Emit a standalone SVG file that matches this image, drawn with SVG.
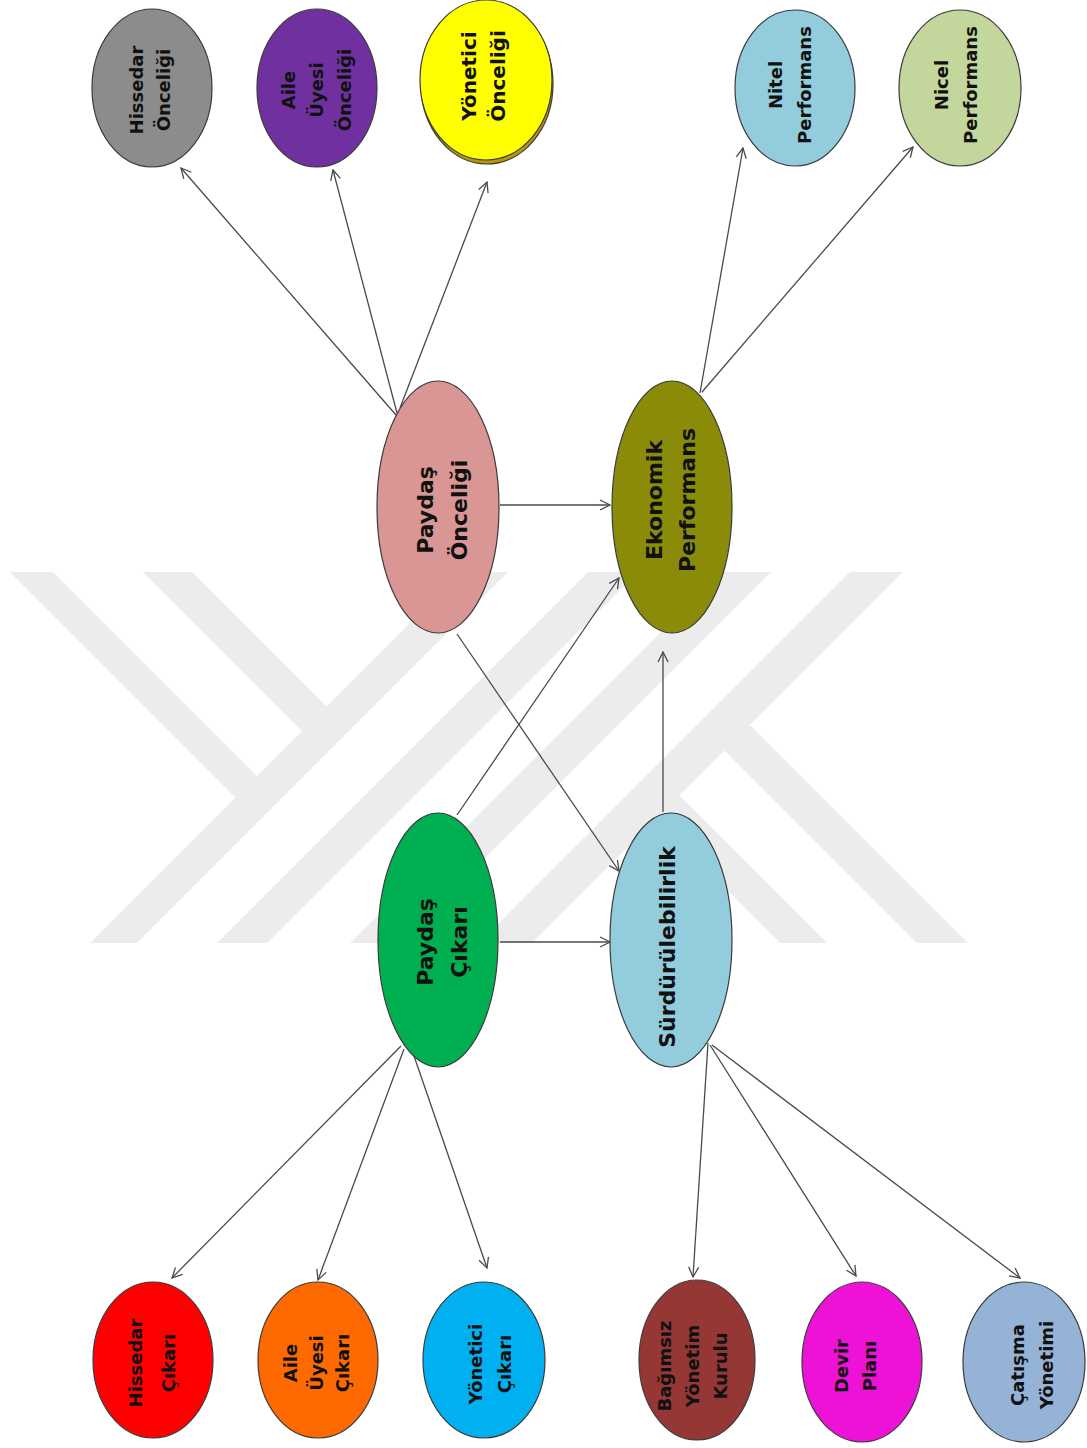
<svg xmlns="http://www.w3.org/2000/svg" width="1087" height="1448" viewBox="0 0 1087 1448">
  <defs>
    <marker id="arrow" viewBox="0 0 12 12" refX="11" refY="6" markerWidth="12" markerHeight="12" markerUnits="userSpaceOnUse" orient="auto">
      <path d="M1,1 L11,6 L1,11" fill="none" stroke="#4a4a4a" stroke-width="1.3"/>
    </marker>
    <style>
      .node ellipse { stroke: #3a3a3a; stroke-width: 1.2; }
      .node text { font-family: "DejaVu Sans", "Liberation Sans", sans-serif; font-weight: bold; fill: #111; text-anchor: middle; }
      .small text { font-size: 18px; }
      .big text { font-size: 22px; }
      .edges line { stroke: #4a4a4a; stroke-width: 1.3; fill: none; marker-end: url(#arrow); }
      .mark { fill: #ececec; }
    </style>
  </defs>

  <rect width="1087" height="1448" fill="#ffffff"/>

  <!-- background emblem: parallel diagonal bands -->
  <g id="emblem">
    <polygon class="mark" points="90,943 137,943 508,572 461,572"/>
    <polygon class="mark" points="217,943 267,943 638,572 588,572"/>
    <polygon class="mark" points="350,943 400,943 771,572 721,572"/>
    <polygon class="mark" points="479,943 532,943 903,572 850,572"/>
    <polygon class="mark" points="10,572 53,572 268,787 246.5,808.5"/>
    <polygon class="mark" points="143,572 192,572 337.5,717.5 313,742"/>
    <polygon class="mark" points="737.5,712.5 712,738 917,943 968,943"/>
    <polygon class="mark" points="667,783 643.5,806.5 780,943 827,943"/>
  </g>

  <!-- connectors -->
  <g id="connectors" class="edges">
    <line x1="396" y1="415" x2="181" y2="168"/>
    <line x1="397" y1="413" x2="333" y2="170"/>
    <line x1="400" y1="408" x2="487" y2="182"/>
    <line x1="700" y1="393" x2="743" y2="148"/>
    <line x1="702" y1="392" x2="913" y2="147"/>
    <line x1="500" y1="505" x2="610" y2="505"/>
    <line x1="500" y1="942" x2="610" y2="942"/>
    <line x1="457" y1="634" x2="619" y2="871"/>
    <line x1="457" y1="815" x2="619" y2="578"/>
    <line x1="663" y1="812" x2="663" y2="652"/>
    <line x1="401" y1="1046" x2="172" y2="1278"/>
    <line x1="404" y1="1049" x2="318" y2="1280"/>
    <line x1="413" y1="1053" x2="487" y2="1268"/>
    <line x1="708" y1="1043" x2="693" y2="1277"/>
    <line x1="710" y1="1045" x2="856" y2="1276"/>
    <line x1="712" y1="1045" x2="1020" y2="1278"/>
  </g>

  <!-- top row -->
  <g id="hissedar-onceligi" class="node small">
    <ellipse cx="152" cy="88" rx="60" ry="79" fill="#8c8c8c"/>
    <text transform="translate(150,90) rotate(-90)"><tspan x="0" y="-7.2">Hissedar</tspan><tspan x="0" y="19.8">Önceliği</tspan></text>
  </g>
  <g id="aile-uyesi-onceligi" class="node small">
    <ellipse cx="317" cy="88" rx="60" ry="79" fill="#7030a0"/>
    <text transform="translate(317,90) rotate(-90)"><tspan x="0" y="-21.7">Aile</tspan><tspan x="0" y="6.3">Üyesi</tspan><tspan x="0" y="34.3">Önceliği</tspan></text>
  </g>
  <g id="yonetici-onceligi" class="node">
    <ellipse cx="487" cy="84" rx="66" ry="80" fill="#b8960a" stroke="none"/>
    <ellipse cx="486" cy="80" rx="66" ry="80" fill="#ffff00"/>
    <text transform="translate(483,76) rotate(-90)" font-size="20"><tspan x="0" y="-7.5">Yönetici</tspan><tspan x="0" y="21.5">Önceliği</tspan></text>
  </g>
  <g id="nitel-performans" class="node small">
    <ellipse cx="795" cy="88" rx="60" ry="78" fill="#93cddd"/>
    <text transform="translate(790,85) rotate(-90)"><tspan x="0" y="-8.2">Nitel</tspan><tspan x="0" y="20.8">Performans</tspan></text>
  </g>
  <g id="nicel-performans" class="node small">
    <ellipse cx="960" cy="88" rx="61" ry="78" fill="#c3d69b"/>
    <text transform="translate(956,85) rotate(-90)"><tspan x="0" y="-8.2">Nicel</tspan><tspan x="0" y="20.8">Performans</tspan></text>
  </g>

  <!-- middle row -->
  <g id="paydas-onceligi" class="node big">
    <ellipse cx="438" cy="507" rx="61" ry="126" fill="#d99694"/>
    <text transform="translate(442,510) rotate(-90)"><tspan x="0" y="-9.3">Paydaş</tspan><tspan x="0" y="24.7">Önceliği</tspan></text>
  </g>
  <g id="ekonomik-performans" class="node big">
    <ellipse cx="672" cy="507" rx="60" ry="126" fill="#8b8b0a"/>
    <text transform="translate(671,500) rotate(-90)" font-size="21"><tspan x="0" y="-9.2">Ekonomik</tspan><tspan x="0" y="23.8">Performans</tspan></text>
  </g>
  <g id="paydas-cikari" class="node big">
    <ellipse cx="438" cy="940" rx="60" ry="127" fill="#00b050"/>
    <text transform="translate(442,942) rotate(-90)"><tspan x="0" y="-9.3">Paydaş</tspan><tspan x="0" y="24.7">Çıkarı</tspan></text>
  </g>
  <g id="surdurulebilirlik" class="node big">
    <ellipse cx="671" cy="940" rx="61" ry="127" fill="#93cddd"/>
    <text transform="translate(667,947) rotate(-90)"><tspan x="0" y="7.7">Sürdürülebilirlik</tspan></text>
  </g>

  <!-- bottom row -->
  <g id="hissedar-cikari" class="node small">
    <ellipse cx="153" cy="1360" rx="60" ry="78" fill="#ff0000"/>
    <text transform="translate(152,1363) rotate(-90)"><tspan x="0" y="-10.2">Hissedar</tspan><tspan x="0" y="22.8">Çıkarı</tspan></text>
  </g>
  <g id="aile-uyesi-cikari" class="node small">
    <ellipse cx="318" cy="1360" rx="60" ry="78" fill="#ff6a00"/>
    <text transform="translate(317,1363) rotate(-90)"><tspan x="0" y="-19.7">Aile</tspan><tspan x="0" y="6.3">Üyesi</tspan><tspan x="0" y="32.3">Çıkarı</tspan></text>
  </g>
  <g id="yonetici-cikari" class="node small">
    <ellipse cx="484" cy="1360" rx="61" ry="78" fill="#00b0f0"/>
    <text transform="translate(490,1364) rotate(-90)"><tspan x="0" y="-8.2">Yönetici</tspan><tspan x="0" y="20.8">Çıkarı</tspan></text>
  </g>
  <g id="bagimsiz-yonetim-kurulu" class="node small">
    <ellipse cx="697" cy="1360" rx="58" ry="80" fill="#953735"/>
    <text transform="translate(693,1366) rotate(-90)"><tspan x="0" y="-21.7">Bağımsız</tspan><tspan x="0" y="6.3">Yönetim</tspan><tspan x="0" y="34.3">Kurulu</tspan></text>
  </g>
  <g id="devir-plani" class="node small">
    <ellipse cx="862" cy="1362" rx="60" ry="80" fill="#ee12d6"/>
    <text transform="translate(856,1366) rotate(-90)"><tspan x="0" y="-7.7">Devir</tspan><tspan x="0" y="20.3">Planı</tspan></text>
  </g>
  <g id="catisma-yonetimi" class="node small">
    <ellipse cx="1024" cy="1362" rx="61" ry="80" fill="#95b3d7"/>
    <text transform="translate(1032,1365) rotate(-90)"><tspan x="0" y="-8.2">Çatışma</tspan><tspan x="0" y="20.8">Yönetimi</tspan></text>
  </g>
</svg>
